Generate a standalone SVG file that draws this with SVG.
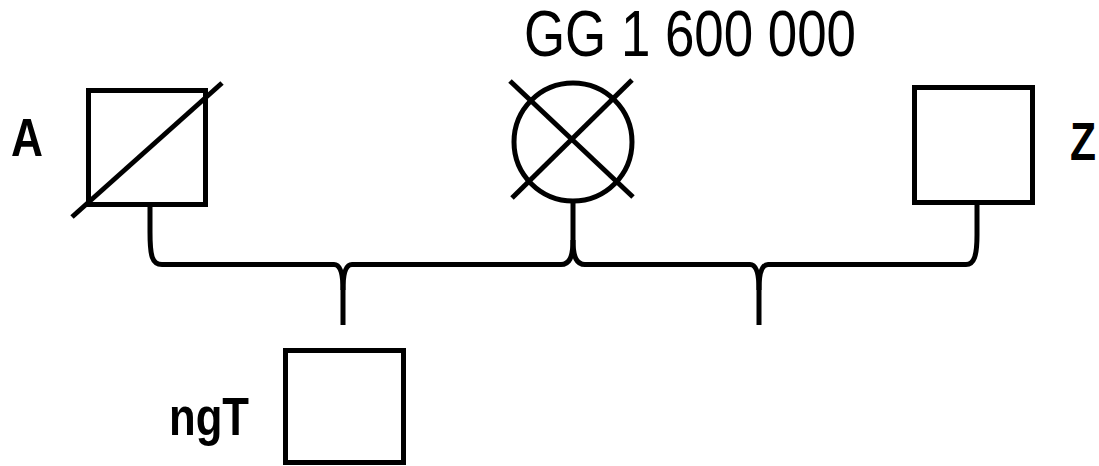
<svg xmlns="http://www.w3.org/2000/svg" width="1099" height="466" viewBox="0 0 1099 466">
<style>
.s{fill:none;stroke:#000;stroke-width:5}
.lb{font-family:"Liberation Sans",Arial,sans-serif;font-weight:bold;font-size:54px;fill:#000}
.lt{font-family:"Liberation Sans",Arial,sans-serif;font-size:64px;fill:#000}
</style>
<rect width="1099" height="466" fill="#fff"/>
<g id="connectors">
<path class="s" d="M150,207 L150,232 C150,256 152,264.5 162,264.5 L334,264.5 C340,264.5 343,272 343,290 L343,325"/>
<path class="s" d="M352,264.5 C346,264.5 343,272 343,290"/>
<path class="s" d="M352,264.5 L561,264.5 C569,264.5 573,258 573,240 L573,203"/>
<path class="s" d="M573,240 C573,258 577,264.5 585,264.5 L750,264.5 C756,264.5 759,272 759,290 L759,325"/>
<path class="s" d="M768,264.5 C762,264.5 759,272 759,290"/>
<path class="s" d="M768,264.5 L966,264.5 C974,264.5 977,256 977,235 L977,205"/>
</g>
<g id="node-A">
<rect class="s" x="88.5" y="90.5" width="117" height="114"/>
<line class="s" x1="72" y1="217" x2="222" y2="83"/>
<text class="lb" x="11" y="156" textLength="32" lengthAdjust="spacingAndGlyphs">A</text>
</g>
<g id="node-GG">
<circle class="s" cx="573" cy="142" r="59"/>
<line class="s" x1="510" y1="81" x2="633" y2="197"/>
<line class="s" x1="632" y1="80" x2="512" y2="198"/>
<text class="lt" x="524" y="56" textLength="332" lengthAdjust="spacingAndGlyphs">GG 1 600 000</text>
</g>
<g id="node-Z">
<rect class="s" x="914.5" y="87.5" width="118" height="115"/>
<text class="lb" x="1070" y="160" textLength="26" lengthAdjust="spacingAndGlyphs">Z</text>
</g>
<g id="node-ngT">
<rect class="s" x="285.5" y="350.5" width="118" height="112"/>
<text class="lb" x="169" y="435" textLength="80" lengthAdjust="spacingAndGlyphs">ngT</text>
</g>
</svg>
